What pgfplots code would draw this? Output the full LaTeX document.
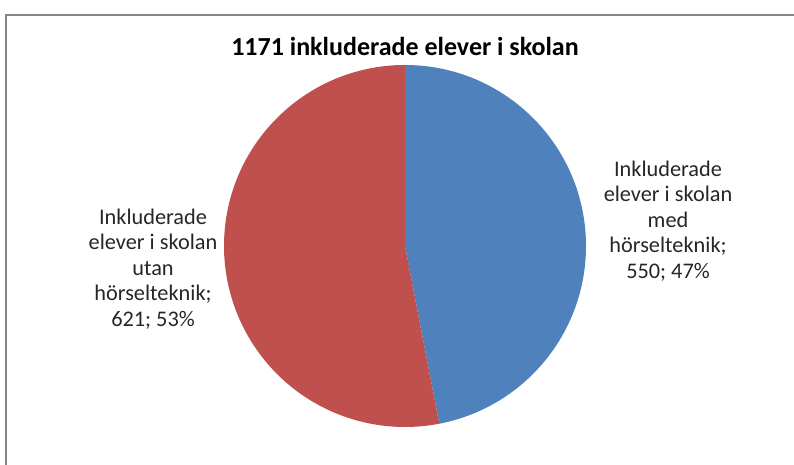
\documentclass[border=0pt]{standalone}
\usepackage{fontspec}
\setmainfont{Carlito}
\usepackage{pgfplots}
\usepackage{pgfplotstable}
\pgfplotsset{compat=1.18}
\definecolor{pieblue}{HTML}{4F81BD}
\definecolor{piered}{HTML}{C0504D}
\definecolor{framegray}{HTML}{868686}
\definecolor{labeltext}{HTML}{262626}
\pgfplotstableread{
label value
med 550
utan 621
}\piedata
\begin{document}
\begin{tikzpicture}[x=1pt,y=1pt]
\path[use as bounding box] (0,0) rectangle (794,465);
\draw[line width=2pt, color=framegray] (6,0) -- (6,450) -- (794,450);
\pgfplotstablegetelem{0}{value}\of\piedata \let\va\pgfplotsretval
\pgfplotstablegetelem{1}{value}\of\piedata \let\vb\pgfplotsretval
\pgfmathsetmacro{\total}{\va+\vb}
\pgfmathsetmacro{\angA}{360*(\va/\total)}
\pgfmathsetmacro{\angB}{360-\angA}
\begin{axis}[at={(405pt,219pt)}, anchor=center, width=362pt, height=362pt,
  scale only axis, hide axis, xmin=-1, xmax=1, ymin=-1, ymax=1, clip=false]
\fill[pieblue] (axis cs:0,0) -- (axis cs:0,1) arc[start angle=90, delta angle=-\angA, radius=181pt] -- cycle;
\fill[piered] (axis cs:0,0) -- (axis cs:0,1) arc[start angle=90, delta angle=\angB, radius=181pt] -- cycle;
\end{axis}
\node[font=\bfseries\fontsize{26}{30}\selectfont, anchor=base] at (405,409) {1171 inkluderade elever i skolan};
\node[font=\fontsize{22.3}{25.5}\selectfont, align=center, text=labeltext] at (668,244)
  {Inkluderade\\elever i skolan\\med\\hörselteknik;\\550; 47\%};
\node[font=\fontsize{22.3}{25.5}\selectfont, align=center, text=labeltext] at (153,196)
  {Inkluderade\\elever i skolan\\utan\\hörselteknik;\\621; 53\%};
\end{tikzpicture}
\end{document}
